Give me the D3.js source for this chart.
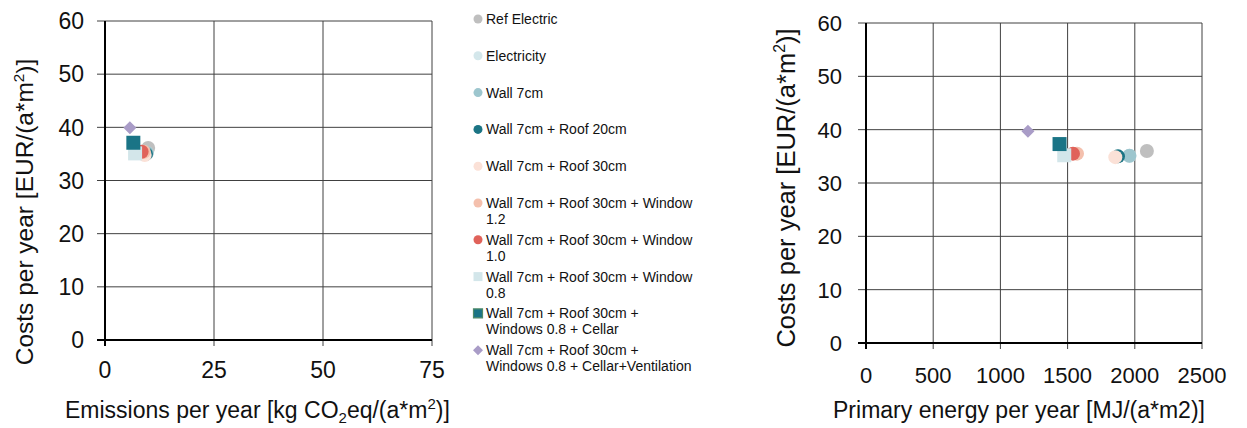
<!DOCTYPE html>
<html>
<head>
<meta charset="utf-8">
<script src="https://cdn.jsdelivr.net/npm/d3@7"></script>
<style>
  html, body { margin: 0; padding: 0; background: #fff; }
  svg { display: block; font-family: Arial, "Liberation Sans", Helvetica, sans-serif; }
</style>
</head>
<body>
<svg id="chart" width="1247" height="428"></svg>
<script>
// Renovation variants
const variants = [
  "Ref Electric",
  "Electricity",
  "Wall 7cm",
  "Wall 7cm + Roof 20cm",
  "Wall 7cm + Roof 30cm",
  "Wall 7cm + Roof 30cm + Window 1.2",
  "Wall 7cm + Roof 30cm + Window 1.0",
  "Wall 7cm + Roof 30cm + Window 0.8",
  "Wall 7cm + Roof 30cm + Windows 0.8 + Cellar",
  "Wall 7cm + Roof 30cm + Windows 0.8 + Cellar+Ventilation"
];
const markerShapes = ["circle", "circle", "circle", "circle", "circle", "circle", "circle", "square", "square", "diamond"];
const markerColors = ["#bfbfbf", "#d4e7eb", "#9dc6ce", "#1b7484", "#fbe1d7", "#f4c0ad", "#e0625a", "#d3e6ea", "#1a7486", "#a99cc7"];

// Emissions per year [kg CO2eq/(a*m2)]
const emissions = [9.9, 9.6, 9.6, 9.4, 9.1, 8.9, 8.4, 6.9, 6.5, 5.7];
// Primary energy per year [MJ/(a*m2)]
const primaryEnergy = [2090, 1960, 1960, 1875, 1855, 1570, 1540, 1475, 1440, 1205];
// Costs per year [EUR/(a*m2)] (left and right panels)
const costsEmission = [36.1, 35.2, 35.2, 35.0, 34.8, 35.4, 35.4, 35.1, 37.1, 39.9];
const costsEnergy = [36.0, 35.1, 35.1, 35.0, 34.85, 35.5, 35.5, 35.2, 37.3, 39.7];

const costTicks = [0, 10, 20, 30, 40, 50, 60];
const emissionTicks = [0, 25, 50, 75];
const energyTicks = [0, 500, 1000, 1500, 2000, 2500];

const svg = d3.select("#chart");
const gridColor = "#404040";

// marker path centred on the origin; size = full width in px
function markerPath(shape, size) {
  const h = size / 2;
  if (shape === "circle") {
    const p = d3.path(); p.arc(0, 0, h, 0, 2 * Math.PI); p.closePath(); return p.toString();
  }
  if (shape === "square") return `M${-h},${-h}H${h}V${h}H${-h}Z`;
  return `M0,${-h}L${h},0L0,${h}L${-h},0Z`;
}

function drawPanel(opt) {
  const x = d3.scaleLinear().domain(opt.xDomain).range(opt.xRange);
  const y = d3.scaleLinear().domain([0, 60]).range(opt.yRange);
  const g = svg.append("g");

  // grid
  g.append("g").selectAll("line").data(costTicks.filter(d => d > 0)).join("line")
    .attr("x1", opt.xRange[0] - 8).attr("x2", opt.xRange[1])
    .attr("y1", d => y(d)).attr("y2", d => y(d))
    .attr("stroke", gridColor).attr("stroke-width", 1);
  g.append("g").selectAll("line").data(opt.xTicks.filter(d => d > opt.xDomain[0])).join("line")
    .attr("x1", d => x(d)).attr("x2", d => x(d))
    .attr("y1", opt.yRange[1]).attr("y2", opt.yRange[0] + 6)
    .attr("stroke", gridColor).attr("stroke-width", 1);

  // axis lines
  g.append("line")
    .attr("x1", opt.xRange[0]).attr("x2", opt.xRange[0])
    .attr("y1", opt.yRange[1]).attr("y2", opt.yRange[0] + 6)
    .attr("stroke", "#000").attr("stroke-width", 2);
  g.append("line")
    .attr("x1", opt.xRange[0] - 8).attr("x2", opt.xRange[1])
    .attr("y1", opt.yRange[0]).attr("y2", opt.yRange[0])
    .attr("stroke", "#000").attr("stroke-width", 2);

  // tick labels
  g.append("g").selectAll("text").data(costTicks).join("text")
    .attr("x", opt.yLabelX).attr("y", d => y(d)).attr("dy", "0.36em")
    .attr("text-anchor", "end").attr("font-size", opt.tickSize).attr("fill", "#111")
    .text(d => d);
  g.append("g").selectAll("text").data(opt.xTicks).join("text")
    .attr("x", d => x(d)).attr("y", opt.xLabelY)
    .attr("text-anchor", "middle").attr("font-size", opt.tickSize).attr("fill", "#111")
    .text(d => d);

  // points
  g.append("g").selectAll("path").data(variants).join("path")
    .attr("transform", (d, i) => `translate(${x(opt.xValues[i])},${y(opt.yValues[i])})`)
    .attr("d", (d, i) => markerPath(markerShapes[i], markerShapes[i] === "circle" ? 14 : markerShapes[i] === "square" ? 14 : 13))
    .attr("fill", (d, i) => markerColors[i]);

  // y title
  const yt = g.append("text")
    .attr("transform", `translate(${opt.yTitleX},${opt.yTitleY}) rotate(-90)`)
    .attr("text-anchor", "middle").attr("font-size", opt.yTitleSize).attr("fill", "#111");
  yt.append("tspan").text("Costs per year [EUR/(a*m");
  yt.append("tspan").attr("dy", -opt.yTitleSize * 0.38).attr("font-size", opt.yTitleSize * 0.62).text("2");
  yt.append("tspan").attr("dy", opt.yTitleSize * 0.38).text(")]");

  return g;
}

// Left: emissions vs costs
const left = drawPanel({
  xDomain: [0, 75], xRange: [105, 432], yRange: [340, 21],
  xTicks: emissionTicks, xValues: emissions, yValues: costsEmission,
  yLabelX: 84, xLabelY: 378, tickSize: 23,
  yTitleX: 33, yTitleY: 212, yTitleSize: 24.5
});
const lt = left.append("text")
  .attr("x", 65).attr("y", 418).attr("font-size", 23).attr("fill", "#111");
lt.append("tspan").text("Emissions per year [kg CO");
lt.append("tspan").attr("dy", 5).attr("font-size", 15).text("2");
lt.append("tspan").attr("dy", -5).text("eq/(a*m");
lt.append("tspan").attr("dy", -9).attr("font-size", 15).text("2");
lt.append("tspan").attr("dy", 9).text(")]");

// Right: primary energy vs costs
const right = drawPanel({
  xDomain: [0, 2500], xRange: [866, 1202], yRange: [343, 23],
  xTicks: energyTicks, xValues: primaryEnergy, yValues: costsEnergy,
  yLabelX: 842, xLabelY: 383, tickSize: 22,
  yTitleX: 795, yTitleY: 188, yTitleSize: 25.5
});
right.append("text")
  .attr("x", 1019).attr("y", 418).attr("text-anchor", "middle")
  .attr("font-size", 23).attr("fill", "#111")
  .text("Primary energy per year [MJ/(a*m2)]");

// Legend
const legend = svg.append("g").attr("transform", "translate(478,19)");
const legendMaxWidth = 213;
const rowStep = 36.8;
variants.forEach((name, i) => {
  const row = legend.append("g").attr("transform", `translate(0,${i * rowStep})`);
  row.append("path")
    .attr("d", markerPath(markerShapes[i], markerShapes[i] === "circle" ? 9 : markerShapes[i] === "square" ? 9 : 10))
    .attr("fill", markerColors[i])
    .attr("stroke", i === 8 ? "#4f8a6a" : "none").attr("stroke-width", 1.2);
  const text = row.append("text").attr("x", 8).attr("y", 0)
    .attr("font-size", 14).attr("fill", "#111");
  // word wrap into the legend width
  const words = name.split(" ");
  let line = [];
  let tspan = text.append("tspan").attr("x", 8).attr("dy", "0.36em");
  words.forEach(w => {
    line.push(w);
    tspan.text(line.join(" "));
    if (tspan.node().getComputedTextLength() > legendMaxWidth && line.length > 1) {
      line.pop();
      tspan.text(line.join(" "));
      line = [w];
      tspan = text.append("tspan").attr("x", 8).attr("dy", "16px").text(w);
    }
  });
});
</script>
</body>
</html>
